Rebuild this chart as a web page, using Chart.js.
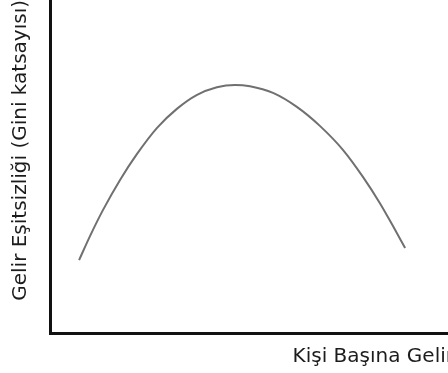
<!DOCTYPE html>
<html>
<head>
<meta charset="utf-8">
<script src="https://cdn.jsdelivr.net/npm/chart.js@4"></script>
<style>
    html, body { margin: 0; padding: 0; background: #fff; overflow: hidden; }
    #wrap { position: relative; width: 454px; height: 373px; }
</style>
</head>
<body>
<div id="wrap"><canvas id="chart"></canvas></div>
<script>
// Kuznets curve (arbitrary 0-100 units on both axes)
const incomeValues = [7.2, 9.9, 13.1, 17.3, 21.5, 26.5, 31.4, 36.4, 41.3, 45.8,
    49.5, 55.2, 61.1, 66.8, 72.5, 77.5, 81.7, 84.9, 87.9];
const giniValues = [21.9, 29.1, 36.9, 45.9, 53.7, 61.6, 67.3, 71.5, 73.8, 74.5,
    74.1, 72.1, 67.9, 62.2, 55.0, 46.8, 38.9, 32.1, 25.5];
const xTitle = 'Kişi Başına Gelir';
const yTitle = 'Gelir Eşitsizliği (Gini katsayısı)';

const FONT = { family: '"DejaVu Sans", Verdana, sans-serif', size: 20, lineHeight: 1.2 };
const AXIS_COLOR = '#111';

const points = incomeValues.map((x, i) => ({ x, y: giniValues[i] }));

new Chart(document.getElementById('chart'), {
    type: 'scatter',
    data: {
        datasets: [{
            data: points,
            showLine: true,
            borderColor: '#707070',
            borderWidth: 2,
            pointRadius: 0,
            cubicInterpolationMode: 'monotone',
            fill: false,
        }],
    },
    options: {
        responsive: true,
        maintainAspectRatio: false,
        animation: false,
        events: [],
        layout: { autoPadding: false, padding: 0 },
        plugins: { legend: { display: false }, tooltip: { enabled: false } },
        scales: {
            x: {
                type: 'linear',
                min: 0,
                max: 100,
                grid: { display: false, drawTicks: false },
                border: { display: true, color: AXIS_COLOR, width: 3 },
                ticks: { display: false },
                title: {
                    display: true,
                    text: xTitle,
                    align: 'end',
                    color: '#1c1c1c',
                    font: FONT,
                    padding: { top: 12, bottom: 4 },
                },
            },
            y: {
                type: 'linear',
                min: 0,
                max: 100,
                grid: { display: false, drawTicks: false },
                border: { display: true, color: AXIS_COLOR, width: 3 },
                ticks: { display: false },
                title: {
                    display: true,
                    text: yTitle,
                    align: 'end',
                    color: '#1c1c1c',
                    font: FONT,
                    padding: { top: 9, bottom: 17 },
                },
            },
        },
    },
});
</script>
</body>
</html>
